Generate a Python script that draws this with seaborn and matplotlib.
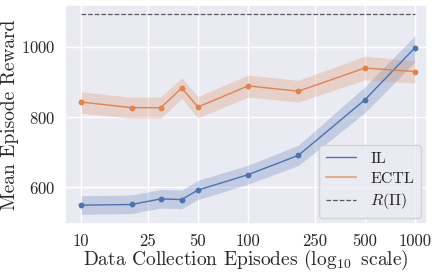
import numpy as np
import pandas as pd
import matplotlib
matplotlib.use('Agg')
import matplotlib.pyplot as plt
from matplotlib.lines import Line2D
import seaborn as sns

episodes = [10, 20, 30, 40, 50, 100, 200, 500, 1000]
il_mean = [549, 551, 567, 565, 592, 636, 691, 849, 998]
il_low = [523, 525, 541, 539, 565, 609, 662, 812, 958]
il_high = [576, 578, 594, 592, 620, 663, 720, 886, 1032]
ectl_mean = [843, 827, 827, 883, 829, 889, 874, 940, 930]
ectl_low = [811, 797, 797, 853, 798, 857, 843, 906, 897]
ectl_high = [872, 857, 858, 912, 859, 920, 905, 974, 960]
r_pi = 1095
tick_vals = [10, 25, 50, 100, 250, 500, 1000]

sns.set_theme(style='darkgrid')
plt.rcParams['font.family'] = ['cmr10', 'DejaVu Serif']
plt.rcParams['mathtext.fontset'] = 'cm'
plt.rcParams['axes.unicode_minus'] = False
plt.rcParams['axes.formatter.use_mathtext'] = True

blue, orange = sns.color_palette('deep')[0], sns.color_palette('deep')[1]

df = pd.DataFrame({'episodes': episodes * 2,
                   'reward': il_mean + ectl_mean,
                   'method': ['IL'] * len(episodes) + ['ECTL'] * len(episodes)})

fig = plt.figure(figsize=(4.37, 2.72), dpi=100)
ax = fig.add_axes([0.149, 0.176, 0.828, 0.806])

sns.lineplot(data=df, x='episodes', y='reward', hue='method', palette=[blue, orange],
             marker='o', markersize=4.2, markeredgewidth=0, linewidth=1.0, ax=ax, legend=False)
ax.fill_between(episodes, il_low, il_high, color=blue, alpha=0.25, linewidth=0)
ax.fill_between(episodes, ectl_low, ectl_high, color=orange, alpha=0.25, linewidth=0)
ax.plot([episodes[0], episodes[-1]], [r_pi, r_pi], color='0.35', linestyle='--',
        linewidth=0.9)

ax.set_xscale('log')
ax.set_xlim(8, 1180)
ax.set_ylim(495, 1120)
ax.set_xticks(tick_vals)
ax.set_xticklabels([str(t) for t in tick_vals])
ax.minorticks_off()
ax.set_yticks([600, 800, 1000])
ax.tick_params(labelsize=12, pad=1)
ax.set_xlabel(r'Data Collection Episodes ($\log_{10}$ scale)', fontsize=14, labelpad=-1)
ax.set_ylabel('Mean Episode Reward', fontsize=14, labelpad=1)

handles = [Line2D([], [], color=blue, linewidth=1.0),
           Line2D([], [], color=orange, linewidth=1.5, alpha=0.6),
           Line2D([], [], color='0.35', linestyle='--', linewidth=0.9)]
ax.legend(handles, ['IL', 'ECTL', r'$R(\Pi)$'], loc='lower right', fontsize=11.5,
          handlelength=1.9, handletextpad=0.9, labelspacing=0.35, borderaxespad=0.4)

fig.savefig('out.png', dpi=100)
